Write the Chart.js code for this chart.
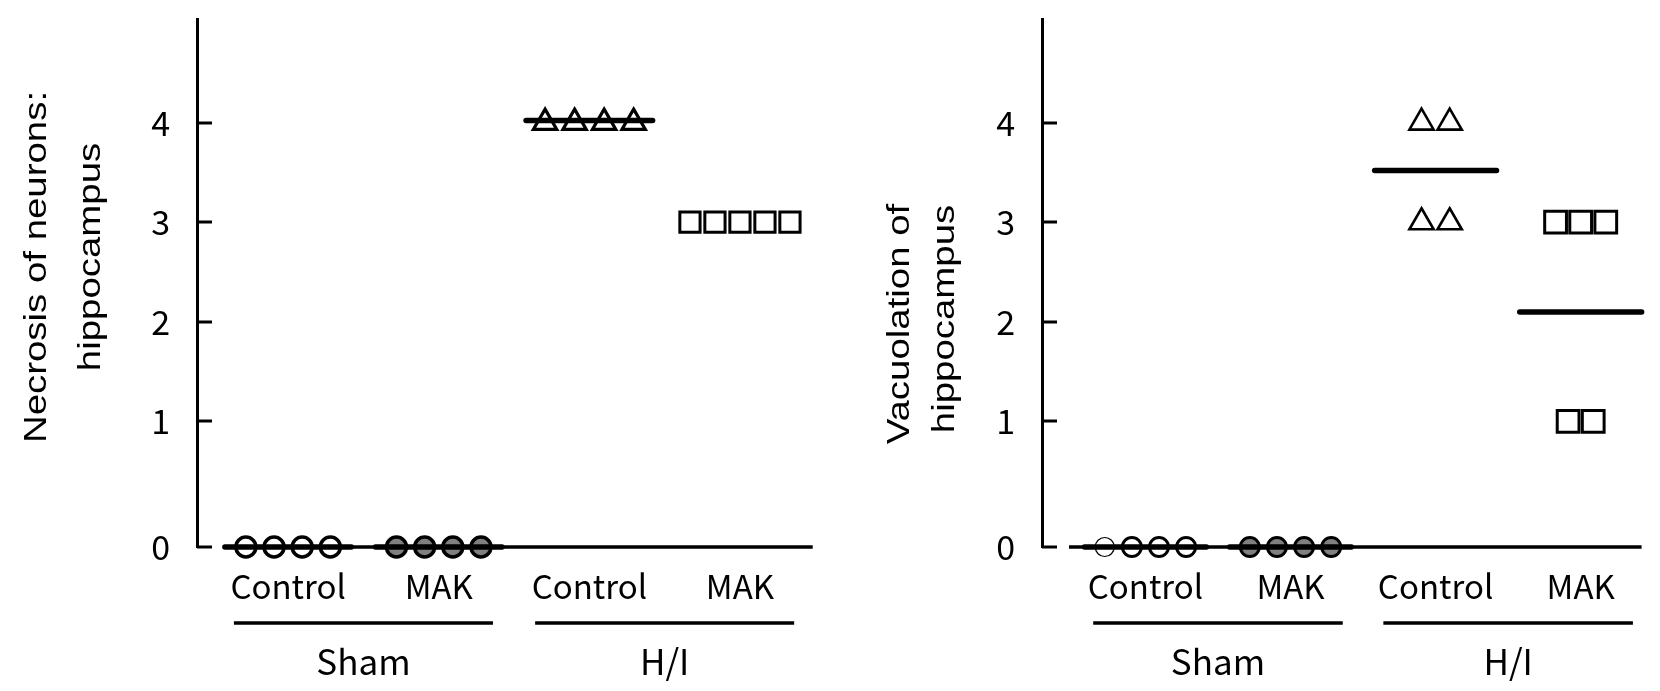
<!DOCTYPE html>
<html>
<head>
<meta charset="utf-8">
<script src="https://cdn.jsdelivr.net/npm/chart.js@4.4.1/dist/chart.umd.min.js"></script>
<style>
  html, body { margin: 0; padding: 0; background: #fff; }
  #wrap { position: relative; width: 1660px; height: 691px; }
  canvas { position: absolute; top: 0; }
  #necrosisChart { left: 0; }
  #vacuolationChart { left: 830px; }
</style>
</head>
<body>
<div id="wrap">
  <canvas id="necrosisChart" width="830" height="691"></canvas>
  <canvas id="vacuolationChart" width="830" height="691"></canvas>
</div>
<script>
// ---- data ----
const groupLabels = ['Control', 'MAK', 'Control', 'MAK'];
const treatmentLabels = ['Sham', 'H/I'];
const yTicks = [0, 1, 2, 3, 4];

// panel A: necrosis of neurons (scores per animal)
const necShamControl = [0, 0, 0, 0];
const necShamMAK = [0, 0, 0, 0];
const necHIControl = [4, 4, 4, 4];
const necHIMAK = [3, 3, 3, 3, 3];
const necMeans = [0, 0, 4.02, null];   // no mean bar drawn for H/I MAK

// panel B: vacuolation
const vacShamControl = [0, 0, 0, 0];
const vacShamMAK = [0, 0, 0, 0];
const vacHIControl = [4, 4, 3, 3];
const vacHIMAK = [3, 3, 3, 1, 1];
const vacMeans = [0, 0, 3.52, 2.1];

const TICK_FONT = '"Noto Sans CJK JP", "Noto Sans", sans-serif';
const TITLE_FONT = '"Liberation Sans", Arial, sans-serif';

// y axis in the figure: the 0-1 step is drawn taller than the others
const GAP = 1.26;
class GapScale extends Chart.LinearScale {
    static id = 'gapLinear';
    static defaults = Chart.LinearScale.defaults;
    warp(v) { return v < 1 ? v * GAP : GAP + (v - 1); }
    unwarp(u) { return u < GAP ? u / GAP : 1 + (u - GAP); }
    getPixelForValue(value) {
        if (value === null || isNaN(value)) return NaN;
        const u0 = this.warp(this.min), u1 = this.warp(this.max);
        return this.getPixelForDecimal((this.warp(value) - u0) / (u1 - u0));
    }
    getValueForPixel(pixel) {
        const u0 = this.warp(this.min), u1 = this.warp(this.max);
        return this.unwarp(u0 + this.getDecimalForPixel(pixel) * (u1 - u0));
    }
}
Chart.register(GapScale);

// spread equal scores side by side around the group centre
function spread(values, g, step) {
    const count = {}, seen = {};
    values.forEach(v => { count[v] = (count[v] || 0) + 1; });
    return values.map(v => {
        const k = seen[v] = (seen[v] === undefined ? 0 : seen[v] + 1);
        return { x: g + (k - (count[v] - 1) / 2) * step, y: v };
    });
}

const MEAN_HALF = 0.42;

function buildDatasets(groups, means, styles) {
    const ds = [];
    // mean bars first so they are painted on top of the markers
    means.forEach((m, g) => {
        if (m === null) return;
        ds.push({
            data: [{ x: g - MEAN_HALF, y: m }, { x: g + MEAN_HALF, y: m }],
            showLine: true, borderColor: '#000', borderWidth: 5.5,
            borderCapStyle: 'round', pointRadius: 0, clip: false
        });
    });
    groups.forEach((vals, g) => {
        const st = styles[g];
        ds.push({
            data: spread(vals, g, st.step),
            showLine: false,
            clip: false,
            pointStyle: st.shape,
            pointRadius: st.r,
            pointBackgroundColor: st.fill,
            pointBorderColor: '#000',
            pointBorderWidth: st.bw
        });
    });
    return ds;
}

const panelDecor = {
    id: 'panelDecor',
    beforeDatasetsDraw(chart, args, opts) {
        const { ctx, chartArea: a, scales: { y } } = chart;
        ctx.save();
        ctx.strokeStyle = '#000';
        ctx.lineWidth = 3.5;
        ctx.beginPath();
        ctx.moveTo(a.left + opts.axisGap, a.bottom);
        ctx.lineTo(a.right, a.bottom);
        ctx.stroke();
        // tick marks point into the plot
        ctx.lineWidth = 3;
        y.ticks.forEach(t => {
            const py = Math.round(y.getPixelForValue(t.value));
            ctx.beginPath();
            ctx.moveTo(a.left, py);
            ctx.lineTo(a.left + 15, py);
            ctx.stroke();
        });
        ctx.restore();
    },
    afterDraw(chart, args, opts) {
        const { ctx, chartArea: a, scales: { x } } = chart;
        ctx.save();
        ctx.fillStyle = '#000';
        ctx.strokeStyle = '#000';
        // treatment bars under the group labels
        treatmentLabels.forEach((lab, t) => {
            const x1 = x.getPixelForValue(2 * t - 0.36);
            const x2 = x.getPixelForValue(2 * t + 1 + 0.36);
            ctx.lineWidth = 3.5;
            ctx.beginPath();
            ctx.moveTo(x1, a.bottom + 76);
            ctx.lineTo(x2, a.bottom + 76);
            ctx.stroke();
            ctx.font = '35px ' + TICK_FONT;
            ctx.textAlign = 'center';
            ctx.textBaseline = 'middle';
            ctx.fillText(lab, (x1 + x2) / 2, a.bottom + 115);
        });
        // rotated y title, drawn a bit wide like the original
        ctx.font = '32px ' + TITLE_FONT;
        opts.title.forEach((line, i) => {
            ctx.save();
            ctx.translate(opts.titleX[i], opts.titleY[i]);
            ctx.rotate(-Math.PI / 2);
            ctx.scale(1.2, 1);
            ctx.textAlign = 'center';
            ctx.textBaseline = 'middle';
            ctx.fillText(line, 0, 0);
            ctx.restore();
        });
        ctx.restore();
    }
};

function makeOptions(cfg) {
    return {
        responsive: false,
        animation: false,
        events: [],
        layout: { padding: { left: 0, right: cfg.padRight, top: 19, bottom: 0 } },
        plugins: {
            legend: { display: false },
            tooltip: { enabled: false },
            panelDecor: cfg
        },
        scales: {
            x: {
                type: 'linear', min: cfg.xMin, max: cfg.xMax,
                afterBuildTicks: s => { s.ticks = groupLabels.map((_, i) => ({ value: i })); },
                afterFit: s => { s.height = 144; s.paddingLeft = 0; s.paddingRight = 0; },
                ticks: {
                    callback: v => groupLabels[v],
                    font: { family: TICK_FONT, size: 33 },
                    color: '#000', padding: 20, autoSkip: false, maxRotation: 0
                },
                grid: { display: false, drawTicks: false },
                border: { display: false }
            },
            y: {
                type: 'gapLinear', min: 0, max: 5.04,
                afterBuildTicks: s => { s.ticks = yTicks.map(v => ({ value: v })); },
                afterFit: s => { s.width = cfg.axisLeft; s.paddingTop = 0; s.paddingBottom = 0; },
                ticks: { font: { family: TICK_FONT, size: 34 }, color: '#000', padding: 27 },
                grid: { display: false, drawTicks: false },
                border: { display: true, color: '#000', width: 3 }
            }
        }
    };
}

new Chart(document.getElementById('necrosisChart'), {
    type: 'scatter',
    data: {
        datasets: buildDatasets(
            [necShamControl, necShamMAK, necHIControl, necHIMAK], necMeans,
            [{ shape: 'circle', r: 10, bw: 3.5, fill: '#fff', step: 0.187 },
             { shape: 'circle', r: 10, bw: 3.5, fill: '#808080', step: 0.187 },
             { shape: 'triangle', r: 13.5, bw: 3.2, fill: '#fff', step: 0.196 },
             { shape: 'rect', r: 14.3, bw: 3, fill: '#fff', step: 0.166 }])
    },
    options: makeOptions({
        xMin: -0.605, xMax: 3.483, padRight: 13, axisLeft: 197, axisGap: 26,
        title: ['Necrosis of neurons:', 'hippocampus'],
        titleX: [37, 91], titleY: [267, 257]
    }),
    plugins: [panelDecor]
});

new Chart(document.getElementById('vacuolationChart'), {
    type: 'scatter',
    data: {
        datasets: buildDatasets(
            [vacShamControl, vacShamMAK, vacHIControl, vacHIMAK], vacMeans,
            [{ shape: 'circle', r: 9.5, bw: [1.2, 3, 3, 3], fill: '#fff', step: 0.187 },
             { shape: 'circle', r: 9.5, bw: 3, fill: '#808080', step: 0.187 },
             { shape: 'triangle', r: 14, bw: 2.6, fill: '#fff', step: 0.194 },
             { shape: 'rect', r: 15.4, bw: 3, fill: '#fff', step: 0.173 }])
    },
    options: makeOptions({
        xMin: -0.713, xMax: 3.42, padRight: 0, axisLeft: 212, axisGap: 27,
        title: ['Vacuolation of', 'hippocampus'],
        titleX: [70, 115], titleY: [324, 319]
    }),
    plugins: [panelDecor]
});
</script>
</body>
</html>
